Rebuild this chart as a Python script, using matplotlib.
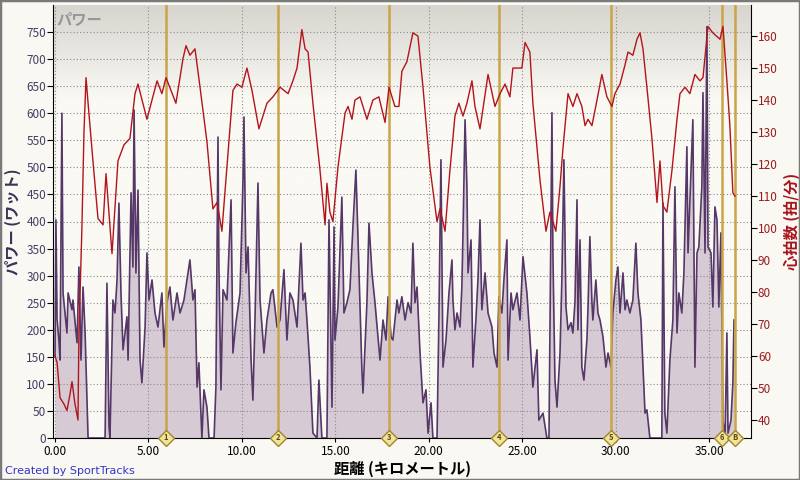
import numpy as np
import matplotlib
matplotlib.use("Agg")
import matplotlib.pyplot as plt
from matplotlib.colors import LinearSegmentedColormap
from matplotlib.patches import Rectangle

plt.rcParams['font.family'] = ['Noto Sans CJK JP', 'DejaVu Sans']

# Distance (km) / power (W)
power_km = [0.00, 0.05, 0.11, 0.21, 0.27, 0.37, 0.43, 0.64, 0.70, 0.91, 0.96, 1.18, 1.28, 1.39, 1.50, 1.61,
            1.77, 2.68, 2.78, 2.89, 2.94, 3.10, 3.21, 3.32, 3.42, 3.53, 3.64, 3.85, 3.91, 4.07, 4.17, 4.23,
            4.33, 4.44, 4.55, 4.65, 4.82, 4.92, 5.03, 5.19, 5.35, 5.51, 5.72, 5.83, 5.99, 6.15, 6.31, 6.53,
            6.69, 6.90, 7.22, 7.38, 7.49, 7.60, 7.70, 7.86, 7.97, 8.13, 8.24, 8.51, 8.61, 8.72, 8.77, 8.88,
            8.99, 9.20, 9.42, 9.52, 9.68, 9.90, 10.06, 10.11, 10.22, 10.33, 10.49, 10.59, 10.70, 10.86, 10.97,
            11.18, 11.34, 11.56, 11.66, 11.88, 12.04, 12.25, 12.41, 12.57, 12.73, 12.95, 13.16, 13.27, 13.38,
            13.48, 13.64, 13.80, 14.02, 14.12, 14.28, 14.55, 14.66, 14.82, 14.93, 14.98, 15.14, 15.35, 15.46,
            15.62, 15.78, 15.94, 16.10, 16.21, 16.42, 16.48, 16.69, 16.80, 16.96, 17.12, 17.28, 17.39, 17.55,
            17.71, 17.82, 17.98, 18.08, 18.30, 18.40, 18.56, 18.73, 18.89, 19.05, 19.15, 19.26, 19.37, 19.53,
            19.69, 19.85, 19.96, 20.12, 20.22, 20.44, 20.54, 20.65, 20.76, 20.92, 21.08, 21.24, 21.29, 21.40,
            21.51, 21.67, 21.77, 21.83, 21.94, 22.04, 22.10, 22.26, 22.36, 22.52, 22.63, 22.74, 22.84, 23.01,
            23.17, 23.38, 23.49, 23.65, 23.75, 23.91, 24.02, 24.18, 24.24, 24.40, 24.50, 24.72, 24.88, 25.04,
            25.25, 25.41, 25.57, 25.79, 25.89, 26.11, 26.32, 26.43, 26.59, 26.64, 26.75, 26.86, 27.02, 27.12,
            27.23, 27.34, 27.45, 27.61, 27.71, 27.82, 27.93, 27.98, 28.09, 28.19, 28.30, 28.46, 28.52, 28.62,
            28.73, 28.78, 28.94, 29.05, 29.16, 29.32, 29.48, 29.59, 29.75, 29.85, 30.01, 30.12, 30.23, 30.39,
            30.50, 30.60, 30.76, 30.92, 31.08, 31.19, 31.35, 31.46, 31.57, 31.67, 31.83, 32.47, 32.53, 32.63,
            32.74, 32.90, 33.06, 33.17, 33.28, 33.38, 33.54, 33.65, 33.81, 33.87, 34.03, 34.13, 34.24, 34.35,
            34.45, 34.61, 34.67, 34.78, 34.88, 34.94, 35.10, 35.20, 35.31, 35.42, 35.52, 35.63, 35.74, 35.85,
            35.95, 36.01, 36.17, 36.27, 36.33]
power_w = [150, 403, 220, 180, 144, 600, 268, 194, 268, 237, 255, 176, 316, 144, 279, 194,
           0, 0, 286, 20, 0, 255, 231, 292, 434, 268, 163, 224, 144, 453, 316, 606,
           305, 458, 144, 102, 205, 342, 255, 292, 231, 205, 268, 168, 250, 279, 218, 268,
           231, 255, 329, 255, 274, 94, 139, 0, 89, 57, 0, 0, 94, 556, 316, 89,
           274, 255, 440, 157, 213, 268, 477, 593, 305, 353, 144, 70, 218, 471, 255,
           157, 218, 268, 274, 205, 218, 311, 181, 268, 255, 205, 360, 255, 268,
           218, 131, 9, 0, 107, 0, 0, 403, 57, 390, 181, 242, 445, 231,
           250, 274, 390, 495, 372, 126, 83, 250, 397, 305, 250, 187, 144, 218,
           181, 261, 187, 181, 255, 231, 261, 218, 250, 231, 360, 250, 279, 157,
           65, 89, 9, 65, 0, 0, 218, 514, 131, 181, 268, 329, 255, 200,
           231, 205, 279, 379, 588, 464, 305, 366, 131, 218, 292, 403, 237, 305,
           231, 205, 157, 131, 261, 231, 292, 366, 144, 268, 237, 268, 218, 335,
           268, 187, 94, 163, 33, 46, 0, 0, 601, 342, 107, 57, 157, 292,
           514, 242, 200, 213, 194, 250, 440, 200, 366, 131, 107, 181, 242, 372,
           250, 218, 292, 231, 218, 187, 131, 157, 131, 231, 292, 316, 231, 305,
           237, 255, 231, 255, 360, 268, 218, 131, 46, 52, 0, 0, 434, 46,
           9, 144, 218, 464, 194, 268, 231, 305, 538, 342, 495, 588, 131, 342,
           353, 464, 638, 342, 760, 353, 342, 242, 427, 403, 242, 379, 33, 0,
           194, 9, 33, 102, 218]

# Distance (km) / heart rate (bpm)
hr_km = [0.00, 0.11, 0.27, 0.48, 0.64, 0.80, 0.91, 1.07, 1.23, 1.28, 1.44, 1.55, 1.66, 1.77, 2.03, 2.30,
         2.57, 2.73, 3.05, 3.37, 3.69, 4.01, 4.28, 4.44, 4.92, 5.46, 5.72, 5.94, 6.47, 6.85, 7.01, 7.22,
         7.49, 7.76, 8.13, 8.45, 8.67, 8.93, 9.20, 9.52, 9.74, 10.00, 10.27, 10.54, 10.91, 11.34, 11.66,
         12.04, 12.47, 12.73, 12.95, 13.21, 13.38, 13.54, 13.80, 14.18, 14.45, 14.55, 14.71, 14.87, 15.14,
         15.52, 15.68, 15.89, 16.05, 16.32, 16.69, 17.01, 17.33, 17.66, 17.87, 18.19, 18.40, 18.56, 18.83,
         19.15, 19.42, 19.69, 20.06, 20.44, 20.60, 20.87, 21.13, 21.40, 21.61, 21.83, 22.04, 22.31, 22.47,
         22.74, 23.17, 23.54, 23.81, 24.08, 24.34, 24.50, 24.98, 25.15, 25.41, 25.57, 25.95, 26.27, 26.48,
         26.80, 27.02, 27.18, 27.45, 27.71, 27.93, 28.19, 28.36, 28.52, 28.73, 29.00, 29.26, 29.53, 29.80,
         29.96, 30.23, 30.50, 30.66, 30.92, 31.14, 31.30, 31.46, 31.67, 31.94, 32.21, 32.37, 32.53, 32.74,
         33.01, 33.28, 33.44, 33.71, 33.97, 34.24, 34.51, 34.67, 34.94, 35.20, 35.58, 35.74, 35.95, 36.11,
         36.27, 36.38]
hr_bpm = [60, 58, 47, 45, 43, 48, 52, 45, 40, 67, 100, 130, 147, 139, 121, 103,
          101, 117, 92, 121, 126, 128, 142, 145, 134, 146, 142, 147, 139, 153, 157, 154,
          156, 144, 127, 106, 108, 99, 119, 143, 145, 144, 150, 143, 131, 139, 141,
          144, 142, 146, 150, 162, 156, 155, 139, 118, 101, 114, 105, 102, 119,
          136, 138, 134, 140, 141, 134, 140, 141, 133, 144, 138, 138, 149, 152,
          161, 160, 144, 119, 102, 106, 99, 118, 135, 139, 135, 139, 146, 138,
          131, 148, 138, 142, 145, 141, 150, 150, 158, 155, 139, 115, 99, 105,
          99, 113, 125, 142, 138, 142, 138, 132, 134, 132, 140, 148, 141, 138,
          142, 145, 151, 155, 154, 159, 161, 156, 144, 128, 108, 121, 107, 105,
          118, 134, 142, 144, 142, 148, 146, 147, 163, 161, 159, 163, 146, 132,
          111, 110]

# Lap markers
lap_km = [5.94, 11.93, 17.87, 23.75, 29.75, 35.68, 36.38]
lap_labels = ["1", "2", "3", "4", "5", "6", "B"]

fig = plt.figure(figsize=(8, 4.8), dpi=100, facecolor='#F9F8F3')
ax = fig.add_axes([53 / 800, 42 / 480, 698 / 800, 433 / 480])
ax.set_facecolor('#FAF9F4')

# grey gradient at the top of the plot area
grad = np.linspace(0, 1, 256).reshape(-1, 1)
cmap = LinearSegmentedColormap.from_list('bg', [(0, '#FAF9F4'), (0.78, '#FAF9F4'), (1, '#D8D5CF')])
ax.imshow(grad, extent=[0, 1, 0, 1], transform=ax.transAxes, cmap=cmap,
          aspect='auto', origin='lower', zorder=0)

ax.set_xlim(-0.107, 37.24)
ax.set_ylim(0, 800)

ax.fill_between(power_km, power_w, 0, color='#D6CAD4', lw=0, zorder=2)
ax.plot(power_km, power_w, color='#563868', lw=1.2, zorder=3)

for k in lap_km:
    ax.axvline(k, color='#C9A449', lw=1.8, zorder=4)

ax.set_yticks(np.arange(0, 751, 50))
ax.set_xticks(np.arange(0, 36, 5))
ax.set_xticklabels([f"{v:.2f}" for v in np.arange(0, 36, 5)])
ax.grid(True, color='#8A8A8A', lw=0.8, ls=(0, (1, 2)), zorder=1)
ax.set_axisbelow(False)

for s in ['top']:
    ax.spines[s].set_visible(False)
ax.spines['left'].set_color('black')
ax.spines['bottom'].set_color('black')
ax.spines['right'].set_visible(False)

ax.tick_params(axis='y', colors='#4B3B63', labelsize=8.5, length=4, width=0.8, pad=1)
ax.tick_params(axis='x', colors='black', labelsize=8.5, length=3, width=0.8, pad=2)
ax.tick_params(axis='y', color='black')
for t in ax.get_yticklabels():
    t.set_color('#4B3B63')

ax.set_ylabel("パワー (ワット)", color='#3E2E55', fontsize=11, fontweight='bold', labelpad=4)
ax.set_xlabel("距離 (キロメートル)", color='black', fontsize=11, fontweight='bold', labelpad=2)

ax2 = ax.twinx()
ax2.set_ylim(34.4, 169.7)
ax2.plot(hr_km, hr_bpm, color='#B3141C', lw=1.0, zorder=5)
ax2.set_yticks(np.arange(40, 161, 10))
ax2.tick_params(axis='y', colors='#9B1B1B', labelsize=8.5, length=4, width=0.8, pad=1)
ax2.tick_params(axis='y', color='black')
for s in ['top', 'left', 'bottom']:
    ax2.spines[s].set_visible(False)
ax2.spines['right'].set_color('black')
ax2.set_ylabel("心拍数 (拍/分)", color='#A8141C', fontsize=11, fontweight='bold', labelpad=4)

# lap diamonds on the distance axis
for k, lab in zip(lap_km, lap_labels):
    ax.plot(k, 0, marker='D', ms=8, mfc='#F1E39A', mec='#A0852C', mew=1,
            clip_on=False, zorder=10)
    ax.text(k, 0, lab, ha='center', va='center', fontsize=5.5, color='#5A4A10',
            fontweight='bold', zorder=11, clip_on=False)

ax.text(0.005, 0.985, "パワー", transform=ax.transAxes, ha='left', va='top',
        fontsize=11, color='#969696', fontweight='bold', zorder=12)

fig.text(5 / 800, 1 - 471 / 480, "Created by SportTracks", color='#3434C8',
         fontsize=8, ha='left', va='center', family=['DejaVu Sans'])

fig.patches.append(Rectangle((0, 0), 1, 1, transform=fig.transFigure, fill=False,
                             edgecolor='#7A7A7A', lw=2.5))

fig.savefig("out.png", dpi=100, facecolor=fig.get_facecolor())
